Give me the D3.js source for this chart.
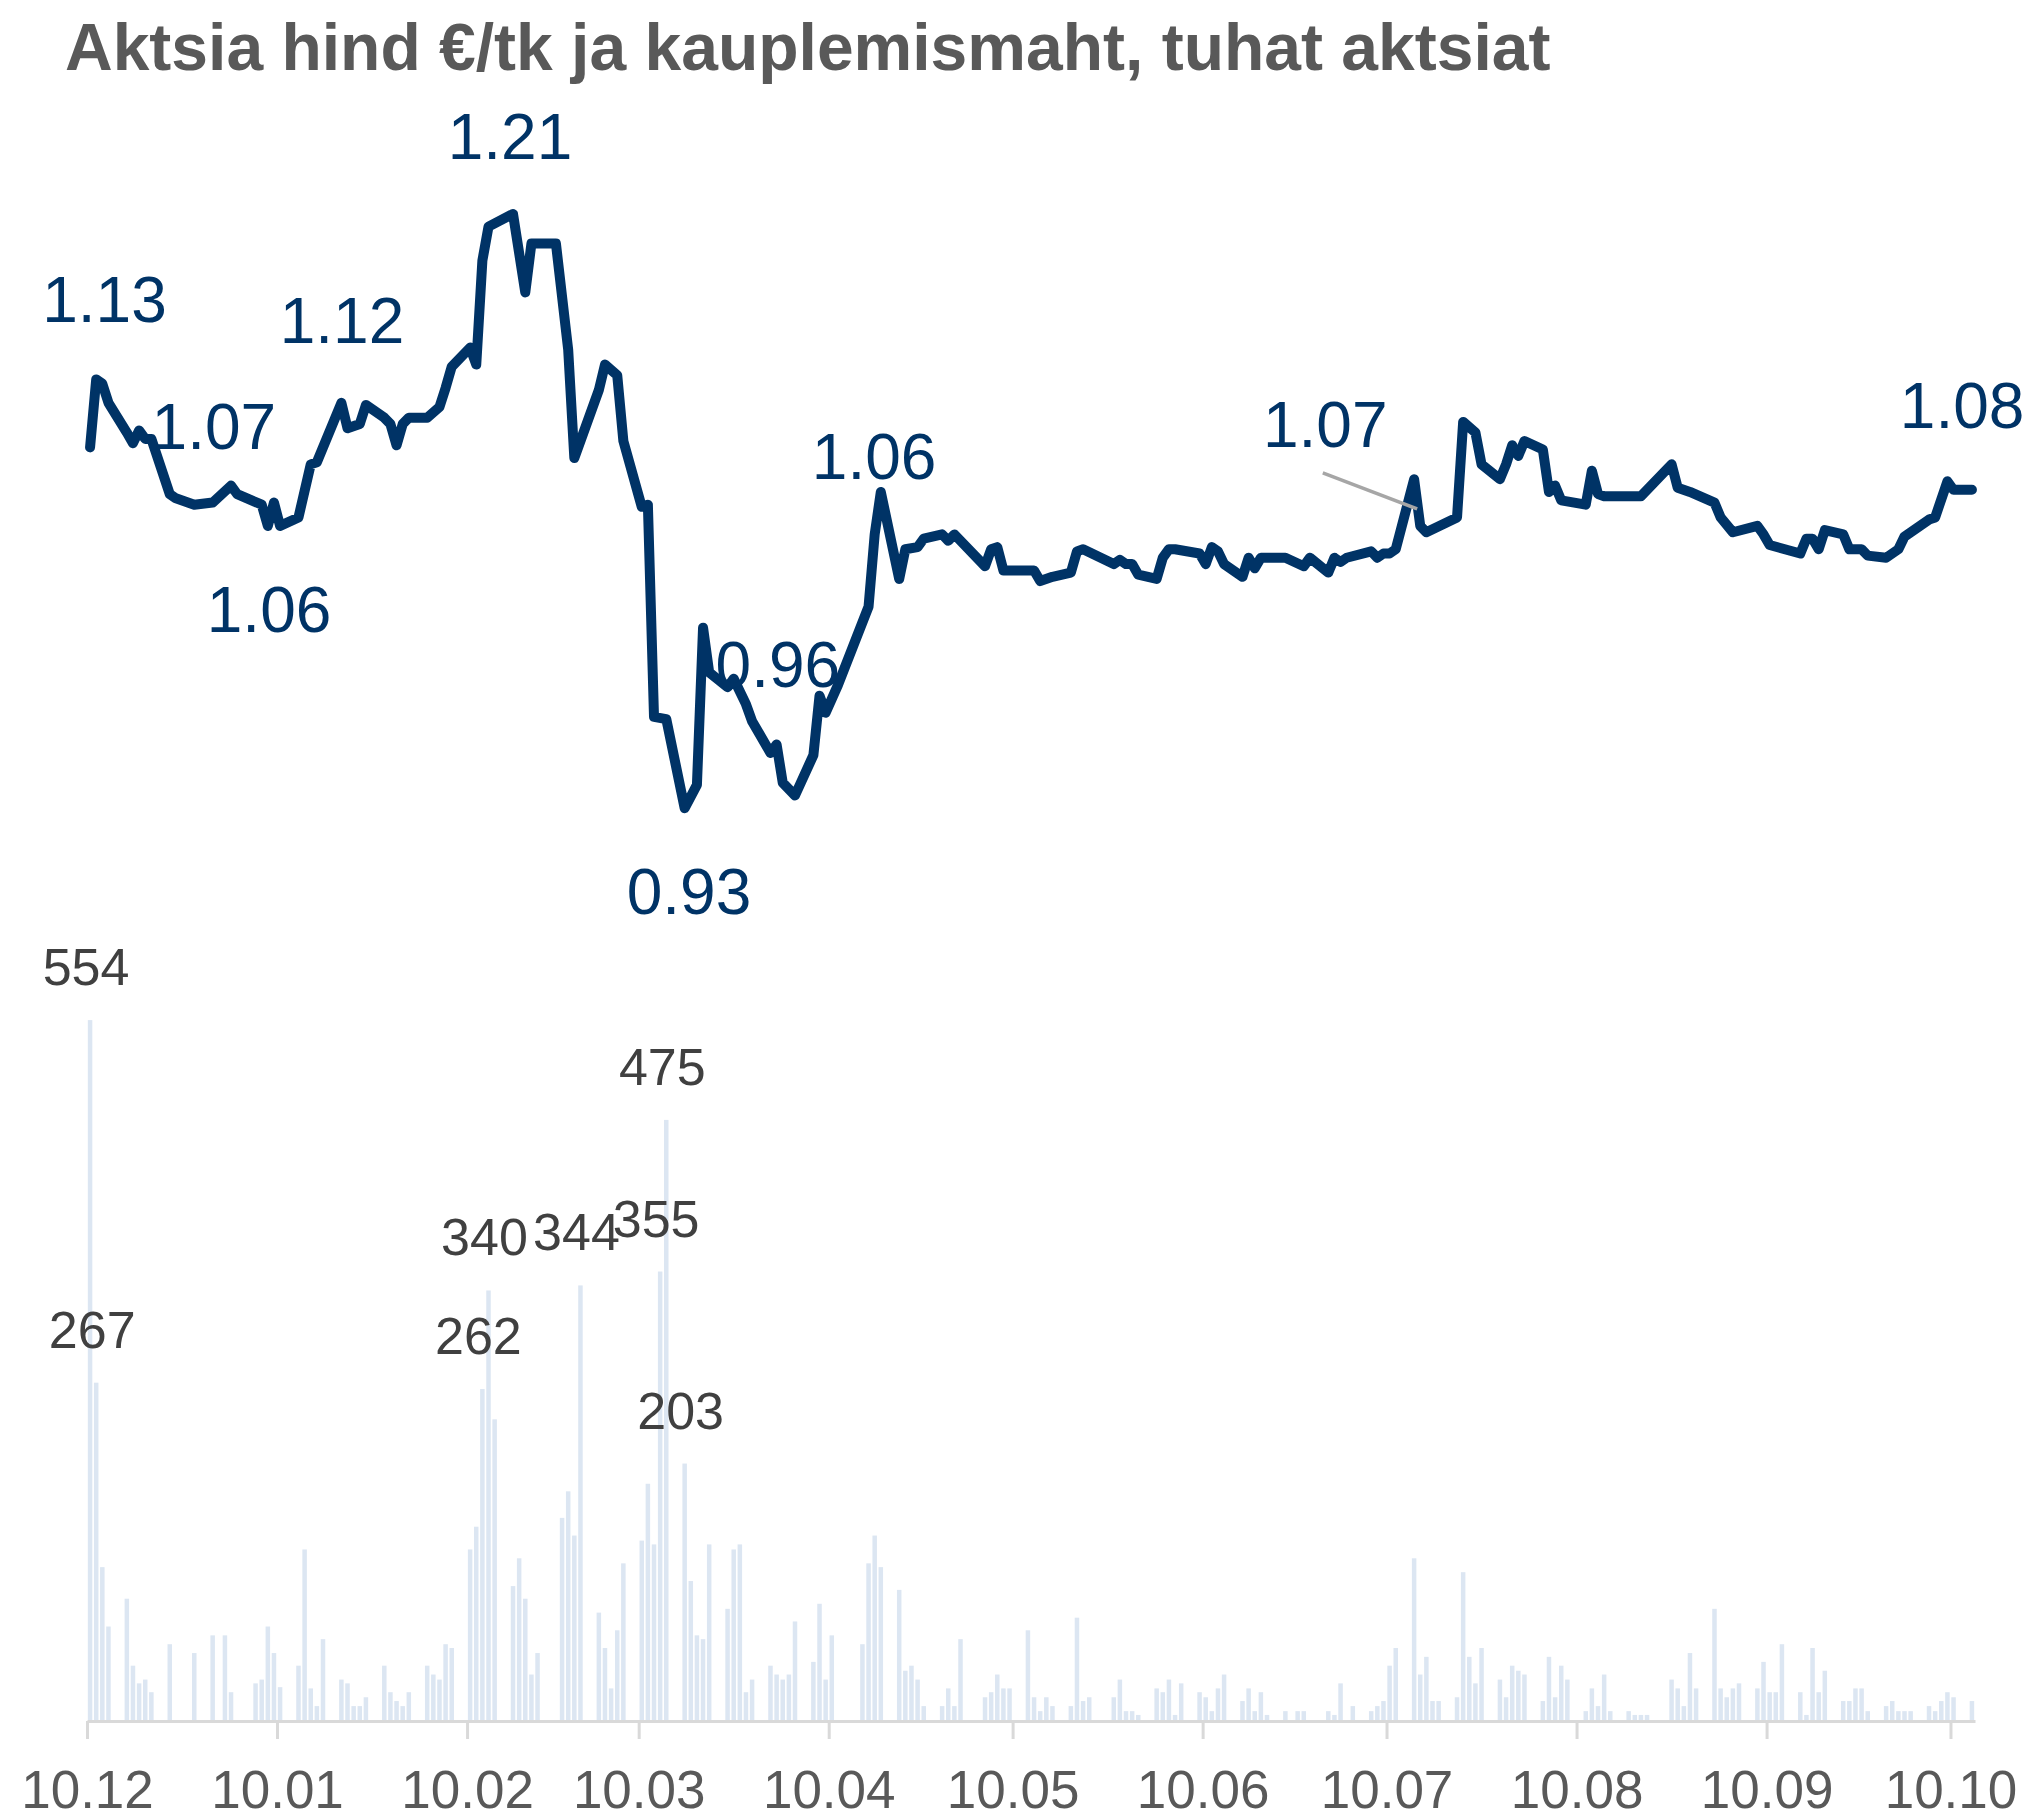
<!DOCTYPE html>
<html>
<head>
<meta charset="utf-8">
<script src="https://cdn.jsdelivr.net/npm/d3@7"></script>
<style>
  body { margin: 0; background: #fff; }
  svg { display: block; font-family: "Liberation Sans", Arial, sans-serif; }
</style>
</head>
<body>
<svg width="2034" height="1819"></svg>
<script>
// all days are counted from 1 Dec 2009 (day 0)
const startDay = Date.UTC(2009, 11, 1);

// closing price, €/tk (turning points of the line)
const priceDays = [
  0, 1, 2, 3, 6, 7, 8, 9, 10, 13, 14, 17, 20, 23, 24, 28, 29, 30, 31, 34,
  36, 37, 41, 42, 44, 45, 48, 49, 50, 51, 52, 55, 57, 58, 59, 62, 63, 64, 65, 69,
  71, 72, 76, 78, 79, 80, 83, 84, 86, 87, 90, 91, 92, 94, 97, 99, 100, 101, 104, 105,
  107, 108, 111, 112, 113, 115, 118, 119, 120, 122, 127, 128, 129, 132, 133, 135, 136, 139, 140, 141,
  146, 147, 148, 149, 154, 155, 157, 160, 161, 162, 167, 168, 169, 170, 171, 174, 175, 176, 177, 181,
  182, 183, 184, 185, 188, 189, 190, 191, 195, 198, 199, 202, 203, 204, 205, 209, 210, 211, 212, 213,
  216, 217, 218, 223, 224, 226, 227, 230, 231, 232, 233, 234, 237, 238, 239, 240, 244, 245, 246, 247,
  253, 258, 259, 261, 265, 266, 268, 272, 273, 274, 279, 280, 281, 282, 283, 286, 287, 289, 290, 293,
  295, 296, 300, 301, 303, 304, 307
];
const prices = [
  1.100, 1.132, 1.130, 1.121, 1.107, 1.102, 1.108, 1.104, 1.104, 1.078, 1.076, 1.073, 1.074, 1.082, 1.078, 1.073, 1.063, 1.074, 1.063, 1.067,
  1.092, 1.093, 1.121, 1.109, 1.111, 1.120, 1.114, 1.111, 1.101, 1.111, 1.114, 1.114, 1.119, 1.128, 1.138, 1.147, 1.139, 1.188, 1.204, 1.210,
  1.173, 1.196, 1.196, 1.146, 1.095, 1.103, 1.127, 1.139, 1.134, 1.103, 1.072, 1.073, 0.973, 0.972, 0.930, 0.941, 1.015, 0.994, 0.987, 0.991,
  0.979, 0.971, 0.956, 0.960, 0.942, 0.936, 0.955, 0.983, 0.975, 0.988, 1.025, 1.059, 1.079, 1.038, 1.052, 1.053, 1.057, 1.059, 1.056, 1.059,
  1.044, 1.052, 1.053, 1.042, 1.042, 1.037, 1.039, 1.041, 1.051, 1.052, 1.045, 1.047, 1.045, 1.045, 1.040, 1.038, 1.048, 1.052, 1.052, 1.050,
  1.045, 1.053, 1.051, 1.045, 1.039, 1.048, 1.043, 1.048, 1.048, 1.044, 1.048, 1.041, 1.048, 1.046, 1.048, 1.051, 1.048, 1.050, 1.050, 1.052,
  1.085, 1.063, 1.060, 1.067, 1.112, 1.107, 1.092, 1.085, 1.092, 1.101, 1.096, 1.103, 1.099, 1.079, 1.082, 1.075, 1.073, 1.089, 1.078, 1.077,
  1.077, 1.092, 1.081, 1.079, 1.074, 1.067, 1.060, 1.063, 1.059, 1.054, 1.050, 1.057, 1.057, 1.052, 1.061, 1.059, 1.052, 1.052, 1.049, 1.048,
  1.052, 1.058, 1.066, 1.067, 1.084, 1.080, 1.080
];

// trading volume, thousand shares
const volumeDays = [
  0, 1, 2, 3, 6, 7, 8, 9, 10, 13, 17, 20, 22, 23, 27, 28, 29, 30, 31, 34,
  35, 36, 37, 38, 41, 42, 43, 44, 45, 48, 49, 50, 51, 52, 55, 56, 57, 58, 59, 62,
  63, 64, 65, 66, 69, 70, 71, 72, 73, 77, 78, 79, 80, 83, 84, 85, 86, 87, 90, 91,
  92, 93, 94, 97, 98, 99, 100, 101, 104, 105, 106, 107, 108, 111, 112, 113, 114, 115, 118, 119,
  120, 121, 126, 127, 128, 129, 132, 133, 134, 135, 136, 139, 140, 141, 142, 146, 147, 148, 149, 150,
  153, 154, 155, 156, 157, 160, 161, 162, 163, 167, 168, 169, 170, 171, 174, 175, 176, 177, 178, 181,
  182, 183, 184, 185, 188, 189, 190, 191, 192, 195, 197, 198, 202, 203, 204, 206, 209, 210, 211, 212,
  213, 216, 217, 218, 219, 220, 223, 224, 225, 226, 227, 230, 231, 232, 233, 234, 237, 238, 239, 240,
  241, 244, 245, 246, 247, 248, 251, 252, 253, 254, 258, 259, 260, 261, 262, 265, 266, 267, 268, 269,
  272, 273, 274, 275, 276, 279, 280, 281, 282, 283, 286, 287, 288, 289, 290, 293, 294, 295, 296, 297,
  300, 301, 302, 303, 304, 307
];
const volumes = [
  554, 267, 121, 74, 96, 43, 29, 32, 22, 60, 53, 67, 67, 22, 29, 32, 74, 53, 26, 43,
  135, 25, 11, 64, 32, 29, 11, 11, 18, 43, 22, 15, 11, 22, 43, 36, 32, 60, 57, 135,
  153, 262, 340, 238, 106, 128, 96, 36, 53, 160, 181, 146, 344, 85, 57, 25, 71, 124, 142, 187,
  139, 355, 475, 203, 110, 67, 64, 139, 88, 135, 139, 22, 32, 43, 36, 32, 36, 78, 46, 92,
  32, 67, 60, 124, 146, 121, 103, 39, 43, 32, 11, 11, 25, 11, 64, 18, 22, 36, 25, 25,
  71, 18, 7, 18, 11, 11, 81, 15, 18, 18, 32, 7, 7, 4, 25, 22, 32, 4, 29, 22,
  18, 7, 25, 36, 15, 25, 7, 22, 4, 7, 7, 7, 7, 4, 29, 11, 7, 11, 15, 43,
  57, 128, 36, 50, 15, 15, 18, 117, 50, 29, 57, 32, 18, 43, 39, 36, 15, 50, 18, 43,
  32, 7, 25, 11, 36, 7, 7, 4, 4, 4, 32, 25, 11, 53, 25, 88, 25, 18, 25, 29,
  25, 46, 22, 22, 60, 22, 4, 57, 22, 39, 15, 15, 25, 25, 7, 11, 15, 7, 7, 7,
  11, 7, 15, 22, 18, 15
];
// volumes that carry a value label
const labelledVolumeDays = [0, 1, 64, 65, 80, 93, 94, 97];

// axis ticks: first day of every month
const tickDays = [0, 31, 62, 90, 121, 151, 182, 212, 243, 274, 304];
const tickLabels = ["10.12", "10.01", "10.02", "10.03", "10.04", "10.05",
                    "10.06", "10.07", "10.08", "10.09", "10.10"];

// price annotations as placed on the chart (day, price level, text)
const noteDays   = [2.35, 20.2, 29.2, 41.1, 68.5, 97.7, 112.2, 127.9, 201.5, 305.4];
const noteLevels = [1.159, 1.099, 1.013, 1.149, 1.236, 0.880, 0.987, 1.085, 1.100, 1.109];
const noteTexts  = ["1.13", "1.07", "1.06", "1.12", "1.21", "0.93", "0.96", "1.06", "1.07", "1.08"];
// leader line of the 1.07 note in July
const leaderDays   = [201.1, 216.5];
const leaderLevels = [1.088, 1.071];

const title = "Aktsia hind €/tk ja kauplemismaht, tuhat aktsiat";

const colors = {
  price:  "#003366",
  volume: "#dce6f2",
  axis:   "#d9d9d9",
  text:   "#595959",
  value:  "#404040",
  leader: "#a6a6a6"
};

const svg = d3.select("svg");

function dayDate(d) {
  return new Date(startDay + d * 864e5);
}

const scales = {
  x: d3.scaleUtc()
    .domain([dayDate(0), dayDate(308)])
    .range([87, 1975]),
  // price on the upper part
  price: d3.scaleLinear()
    .domain([0.85, 1.25])
    .range([978, 129]),
  // volume on the lower part
  volume: d3.scaleLinear()
    .domain([0, 600])
    .range([1720, 962])
};

// x of the middle of a day slot
const dayX = d => scales.x(dayDate(d + 0.5));

const g = {
  volume: svg.append("g"),
  axis:   svg.append("g").attr("transform", "translate(0,1721)"),
  price:  svg.append("g"),
  notes:  svg.append("g")
};

svg.append("text")
  .attr("x", 65)
  .attr("y", 70)
  .attr("font-size", 66)
  .attr("font-weight", "bold")
  .attr("fill", colors.text)
  .text(title);

drawVolume();
drawAxis();
drawPrice();
drawNotes();

function drawVolume() {
  const barWidth = 4.5;
  const rows = volumeDays.map((d, i) => ({day: d, value: volumes[i]}));

  g.volume.selectAll("rect")
    .data(rows)
    .enter()
    .append("rect")
    .attr("x", d => dayX(d.day) - barWidth / 2)
    .attr("width", barWidth)
    .attr("y", d => scales.volume(d.value))
    .attr("height", d => scales.volume(0) - scales.volume(d.value))
    .attr("fill", colors.volume);

  g.volume.selectAll("text")
    .data(rows.filter(d => labelledVolumeDays.includes(d.day)))
    .enter()
    .append("text")
    .attr("x", d => dayX(d.day) - 4)
    .attr("y", d => scales.volume(d.value) - 35)
    .attr("text-anchor", "middle")
    .attr("font-size", 52)
    .attr("fill", colors.value)
    .text(d => d.value);
}

function drawAxis() {
  const axis = d3.axisBottom(scales.x)
    .tickValues(tickDays.map(dayDate))
    .tickFormat((d, i) => tickLabels[i])
    .tickSize(18)
    .tickSizeOuter(0)
    .tickPadding(31);

  g.axis.call(axis);
  g.axis.select(".domain")
    .attr("stroke", colors.axis)
    .attr("stroke-width", 3);
  g.axis.selectAll(".tick line")
    .attr("stroke", colors.axis)
    .attr("stroke-width", 3);
  g.axis.selectAll(".tick text")
    .attr("font-size", 53)
    .attr("font-family", "Liberation Sans, Arial, sans-serif")
    .attr("fill", colors.text);
}

function drawPrice() {
  const points = priceDays.map((d, i) => ({day: d, value: prices[i]}));

  const line = d3.line()
    .x(d => dayX(d.day))
    .y(d => scales.price(d.value));

  g.price.append("path")
    .datum(points)
    .attr("d", line)
    .attr("fill", "none")
    .attr("stroke", colors.price)
    .attr("stroke-width", 10)
    .attr("stroke-linejoin", "round")
    .attr("stroke-linecap", "round");
}

function drawNotes() {
  g.notes.append("line")
    .attr("x1", dayX(leaderDays[0]))
    .attr("y1", scales.price(leaderLevels[0]))
    .attr("x2", dayX(leaderDays[1]))
    .attr("y2", scales.price(leaderLevels[1]))
    .attr("stroke", colors.leader)
    .attr("stroke-width", 3.5);

  g.notes.selectAll("text")
    .data(noteTexts)
    .enter()
    .append("text")
    .attr("x", (t, i) => dayX(noteDays[i]))
    .attr("y", (t, i) => scales.price(noteLevels[i]))
    .attr("text-anchor", "middle")
    .attr("font-size", 64)
    .attr("fill", colors.price)
    .text(t => t);
}
</script>
</body>
</html>
